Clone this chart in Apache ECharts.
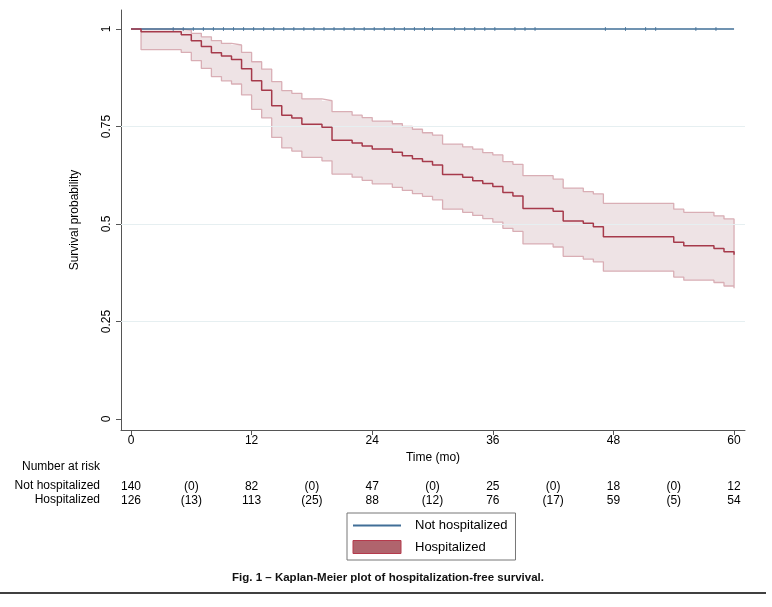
<!DOCTYPE html>
<html>
<head>
<meta charset="utf-8">
<script src="https://cdn.jsdelivr.net/npm/echarts@6/dist/echarts.min.js"></script>
<style>html,body{margin:0;padding:0;background:#fff}#c{width:772px;height:607px}</style>
</head>
<body>
<div id="c"></div>
<script>
// ---- Data ----
const hospTime = [0,1,5,6,7,8,9,10,11,12,13,14,15,16,17,19,20,22,23,24,26,27,28,29,30,31,33,34,35,36,37,38,39,42,43,45,46,47,54,55,58,59,60];
const hospSurv = [1,0.993,0.985,0.970,0.955,0.939,0.931,0.922,0.898,0.867,0.843,0.803,0.779,0.772,0.756,0.748,0.715,0.708,0.700,0.692,0.684,0.675,0.667,0.660,0.651,0.627,0.620,0.611,0.604,0.596,0.581,0.572,0.540,0.533,0.508,0.502,0.493,0.467,0.453,0.444,0.437,0.429,0.421];
const ciTime = [1,5,6,7,8,9,10,11,12,13,14,15,16,17,19,20,22,23,24,26,27,28,29,30,31,33,34,35,36,37,38,39,42,43,45,46,47,54,55,58,59,60];
const ciUpper = [1.000,0.997,0.989,0.980,0.970,0.963,0.959,0.940,0.916,0.897,0.865,0.842,0.835,0.821,0.816,0.788,0.779,0.773,0.764,0.757,0.750,0.743,0.734,0.728,0.705,0.698,0.692,0.683,0.677,0.660,0.653,0.624,0.615,0.592,0.583,0.577,0.553,0.538,0.530,0.521,0.513,0.508];
const ciLower = [0.947,0.940,0.919,0.899,0.878,0.867,0.859,0.831,0.794,0.772,0.722,0.695,0.687,0.671,0.662,0.628,0.620,0.612,0.603,0.594,0.586,0.578,0.571,0.562,0.538,0.530,0.522,0.514,0.505,0.489,0.481,0.449,0.441,0.417,0.410,0.403,0.379,0.364,0.356,0.350,0.341,0.335];
const notHospTime = [0,60];
const notHospSurv = [1,1];
const censorTimes = [4.2,5.2,6.2,7.2,8.2,9.2,10.2,11.2,12.2,13.2,14.2,15.2,16.2,17.2,18.2,19.2,20.2,21.2,22.2,23.2,24.2,25.2,26.2,27.2,28.2,29.2,30.0,32.2,33.2,34.2,35.2,36.2,38.2,39.2,40.2,47.2,49.2,51.2,52.2,56.2,58.2];
const xTicks = [0,12,24,36,48,60];
const yTicks = [0,0.25,0.5,0.75,1];
const riskTimes = [0,6,12,18,24,30,36,42,48,54,60];
const riskNotHosp = ['140','(0)','82','(0)','47','(0)','25','(0)','18','(0)','12'];
const riskHosp = ['126','(13)','113','(25)','88','(12)','76','(17)','59','(5)','54'];

// ---- Derived series data ----
const estData = hospTime.map((t,i)=>[t,hospSurv[i]]);
const upperData = ciTime.map((t,i)=>[t,ciUpper[i]]);
const last = ciTime.length-1;
const lowerData = [[ciTime[0],ciUpper[0]]].concat(ciTime.map((t,i)=>[t,ciLower[i]])).concat([[ciTime[last],ciUpper[last]]]);
const notHospData = notHospTime.map((t,i)=>[t,notHospSurv[i]]);
const censorData = censorTimes.map(t=>[t,1]);

const FONT = 'Liberation Sans, Arial, sans-serif';
const XMIN = -0.995, XMAX = 61.09, YMIN = -0.0282, YMAX = 1.0487;
const BLUE = '#416f97', RED = '#a63a4b', BAND = '#eee3e5', BANDEDGE = '#d9aeb5';

const riskAxis = (offset, labels) => ({
  type:'value', min:XMIN, max:XMAX, position:'bottom', offset:offset,
  axisLine:{show:false}, axisTick:{show:false}, splitLine:{show:false},
  axisLabel:{customValues:riskTimes, margin:0, verticalAlign:'middle', fontSize:12, color:'#000', fontFamily:FONT,
    formatter:v=>labels[riskTimes.indexOf(v)]}
});

function bandItem(params, api){
  const pts = [];
  for (let i=0;i<ciTime.length;i++){
    if (i>0) pts.push(api.coord([ciTime[i], ciUpper[i-1]]));
    pts.push(api.coord([ciTime[i], ciUpper[i]]));
  }
  for (let i=ciTime.length-1;i>=0;i--){
    pts.push(api.coord([ciTime[i], ciLower[i]]));
    if (i>0) pts.push(api.coord([ciTime[i], ciLower[i-1]]));
  }
  return {type:'polygon', shape:{points:pts}, style:{fill:BAND}};
}

const textStyle = (s, x, y, extra) => Object.assign({type:'text', x:x, y:y, silent:true,
  style:{text:s, fontSize:12, fill:'#000', fontFamily:FONT, align:'right', verticalAlign:'middle'}}, extra||{});

const chart = echarts.init(document.getElementById('c'), null, {renderer:'canvas'});
chart.setOption({
  animation:false,
  backgroundColor:'#fff',
  grid:{left:121, right:27, top:10, bottom:177, outerBoundsMode:'none', containLabel:false},
  xAxis:[
    {type:'value', min:XMIN, max:XMAX,
     axisLine:{show:true, onZero:false, lineStyle:{color:'#555', width:1}},
     axisTick:{show:true, length:5, customValues:xTicks, lineStyle:{color:'#555'}},
     axisLabel:{customValues:xTicks, margin:5, fontSize:12, color:'#000', fontFamily:FONT},
     splitLine:{show:false},
     name:'Time (mo)', nameLocation:'middle', nameGap:19,
     nameTextStyle:{fontSize:12, color:'#000', fontFamily:FONT}},
    riskAxis(57, riskNotHosp),
    riskAxis(71, riskHosp)
  ],
  yAxis:{type:'value', min:YMIN, max:YMAX,
     axisLine:{show:true, onZero:false, lineStyle:{color:'#555', width:1}},
     axisTick:{show:true, length:5, customValues:yTicks, lineStyle:{color:'#555'}},
     axisLabel:{customValues:yTicks, rotate:90, margin:8, fontSize:12, color:'#000', fontFamily:FONT},
     splitLine:{show:false},
     name:'Survival probability', nameLocation:'middle', nameGap:40, nameRotate:90,
     nameTextStyle:{fontSize:12, color:'#000', fontFamily:FONT}},
  legend:{orient:'vertical', left:347, top:513, padding:[6,8,6,5], itemGap:8,
     itemWidth:48, itemHeight:13, borderColor:'#777', borderWidth:1, selectedMode:false,
     textStyle:{fontSize:13, color:'#000', fontFamily:FONT, padding:[0,0,0,9]},
     data:[{name:'Not hospitalized', itemStyle:{opacity:0}},
           {name:'Hospitalized', icon:'rect', itemStyle:{color:'#b0646d', borderColor:'#b53a4c', borderWidth:1}}]},
  series:[
    {type:'line', name:'grid', data:[], z:1, silent:true,
     markLine:{silent:true, symbol:'none', label:{show:false},
       lineStyle:{color:'#e6eff1', width:1, type:'solid'},
       data:yTicks.slice(1,4).map(v=>({yAxis:v}))}},
    {type:'custom', name:'ciBand', data:[[ciTime[0], ciLower[0]]], renderItem:bandItem, z:2, silent:true},
    {type:'line', name:'ciUpper', step:'end', data:upperData, symbol:'none', z:3,
     lineStyle:{color:BANDEDGE, width:1.3}, silent:true},
    {type:'line', name:'ciLower', step:'end', data:lowerData, symbol:'none', z:3,
     lineStyle:{color:BANDEDGE, width:1.3}, silent:true},
    {type:'line', name:'Not hospitalized', data:notHospData, symbol:'none', z:4,
     lineStyle:{color:BLUE, width:1.5}, itemStyle:{color:BLUE}},
    {type:'scatter', name:'censor', data:censorData, symbol:'rect', symbolSize:[1,4], z:4,
     itemStyle:{color:BLUE, opacity:0.8}, silent:true},
    {type:'line', name:'Hospitalized', step:'end', data:estData, symbol:'none', z:5,
     lineStyle:{color:RED, width:1.5}, itemStyle:{color:RED}}
  ],
  graphic:[
    textStyle('Number at risk', 100, 467),
    textStyle('Not hospitalized', 100, 486),
    textStyle('Hospitalized', 100, 500),
    {type:'text', x:388, y:578, silent:true, style:{text:'Fig. 1 \u2013 Kaplan-Meier plot of hospitalization-free survival.', fontSize:11.5, fontWeight:'bold', fill:'#111', fontFamily:FONT, align:'center', verticalAlign:'middle'}},
    {type:'line', silent:true, shape:{x1:0, y1:593, x2:766, y2:593}, style:{stroke:'#000', lineWidth:1.5}}
  ]
});
</script>
</body>
</html>
